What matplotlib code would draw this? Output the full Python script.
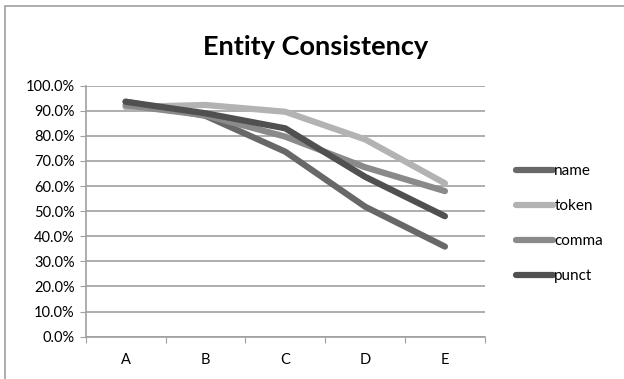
import matplotlib
matplotlib.use("Agg")
import matplotlib.pyplot as plt
from matplotlib.patches import Rectangle
from matplotlib.lines import Line2D

categories = ["A", "B", "C", "D", "E"]
name = [93.6, 88.0, 73.7, 51.8, 35.9]
token = [91.5, 92.3, 89.6, 78.6, 61.1]
comma = [92.2, 88.2, 79.7, 67.5, 58.0]
punct = [93.6, 89.0, 83.0, 63.7, 48.0]
series = ["name", "token", "comma", "punct"]
colors = ["#686868", "#b3b3b3", "#8a8a8a", "#505050"]

plt.rcParams['font.family'] = ['Lato', 'DejaVu Sans']

fig = plt.figure(figsize=(6.24, 3.79), dpi=100)
ax = fig.add_axes([0.1373, 0.1116, 0.6397, 0.6624])

# chart frame
fig.patches.append(Rectangle((5 / 624, -0.1), 1.2, 1 - 6.5 / 379 + 0.1,
                             transform=fig.transFigure, fill=False,
                             edgecolor="#a0a0a0", linewidth=1.2))

x = range(len(categories))
for vals, c in zip([name, token, comma, punct], colors):
    ax.plot(x, vals, color=c, linewidth=4.5, solid_capstyle="round",
            solid_joinstyle="round")

ax.set_xlim(-0.5, 4.5)
ax.set_ylim(0, 100)
ax.set_yticks(range(0, 101, 10))
ax.set_yticklabels(["%.1f%%" % v for v in range(0, 101, 10)], fontsize=10.5)
ax.yaxis.grid(True, color="#a0a0a0", linewidth=1.2)
ax.set_axisbelow(True)
ax.set_xticks([i - 0.5 for i in range(6)])
ax.set_xticklabels([])
ax.set_xticks(list(x), minor=True)
ax.set_xticklabels(categories, minor=True, fontsize=10.5)
ax.tick_params(axis="x", which="minor", length=0, pad=12)
ax.tick_params(axis="x", which="major", length=4, color="#a0a0a0", direction="out")
ax.tick_params(axis="y", length=4, color="#a0a0a0", pad=4)
for s in ["top", "right"]:
    ax.spines[s].set_visible(False)
for s in ["left", "bottom"]:
    ax.spines[s].set_color("#a0a0a0")
    ax.spines[s].set_linewidth(1.2)

fig.text(0.505, 0.877, "Entity Consistency", ha="center", va="center",
         fontsize=19.5, fontweight="bold")

handles = [Line2D([], [], color=c, linewidth=4.5, solid_capstyle="round")
           for c in colors]
fig.legend(handles, series, loc="center left", bbox_to_anchor=(0.805, 0.41),
           frameon=False, fontsize=11, handlelength=2.4, handletextpad=0.1,
           labelspacing=1.38)

fig.savefig("out.png", dpi=100)
